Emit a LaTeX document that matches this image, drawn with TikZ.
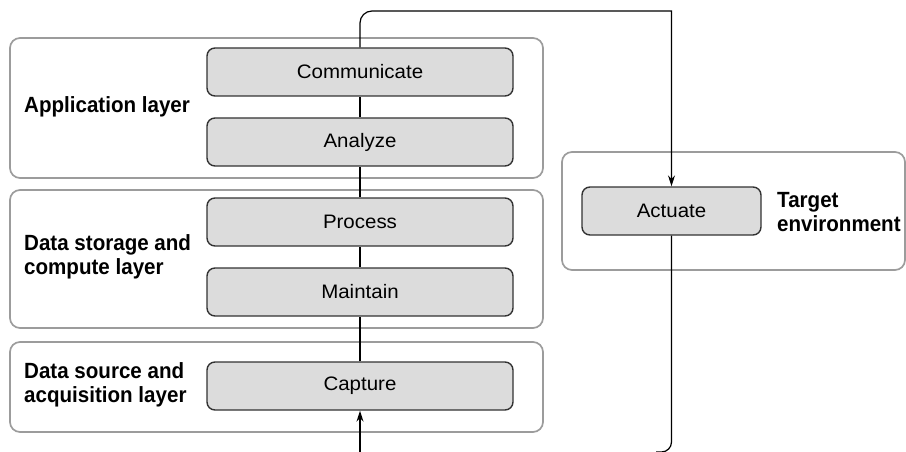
\documentclass[tikz,border=0pt]{standalone}
\usepackage{fontspec}
\setmainfont{Liberation Sans}
\newfontfamily\stepfont{Liberation Sans}[FakeStretch=1.05]
\newfontfamily\lblfont{Liberation Sans}[FakeStretch=0.935]
\usetikzlibrary{arrows.meta}
\definecolor{layergray}{HTML}{9C9C9C}
\definecolor{boxfill}{HTML}{DCDCDC}
\definecolor{boxline}{HTML}{333333}
\begin{document}
\begin{tikzpicture}[x=1pt,y=-1pt,
  layerbox/.style={draw=layergray, line width=1.7pt, rounded corners=10pt, inner sep=0pt},
  stepbox/.style={draw=boxline, fill=boxfill, line width=1.4pt, rounded corners=8pt,
    minimum width=306pt, minimum height=48pt, inner sep=0pt, font=\stepfont\fontsize{19.5}{23}\selectfont},
  lbl/.style={anchor=west, align=left, inner sep=0pt, font=\lblfont\bfseries\fontsize{22}{24}\selectfont},
  flow/.style={draw=black, line width=1.2pt},
  tip/.style={-{Stealth[length=11pt,width=7pt]}}
]
\useasboundingbox (0,0) rectangle (906,452);
% layers
\node[layerbox, minimum width=533pt, minimum height=140pt] (app) at (276.5,108) {};
\node[layerbox, minimum width=533pt, minimum height=138pt] (dsc) at (276.5,259) {};
\node[layerbox, minimum width=533pt, minimum height=90pt] (dsa) at (276.5,387) {};
\node[layerbox, minimum width=343pt, minimum height=118pt] (tgt) at (733.5,211) {};
% steps
\node[stepbox] (comm) at (360,72) {Communicate};
\node[stepbox] (anal) at (360,142) {Analyze};
\node[stepbox] (proc) at (360,222) {Process};
\node[stepbox] (main) at (360,292) {Maintain};
\node[stepbox] (capt) at (360,386) {Capture};
\node[stepbox, minimum width=179pt, minimum height=48pt] (act) at (671.5,211) {Actuate};
% labels
\node[lbl] (lapp) at (24,107) {Application layer};
\node[lbl] (ldsc) at (24,257) {Data storage and\\compute layer};
\node[lbl] (ldsa) at (24,385) {Data source and\\acquisition layer};
\node[lbl] (ltgt) at (777,212) {Target\\environment};
% coordinates
\coordinate (start) at (360,452);
\coordinate (tl) at (360,11);
\coordinate (tr) at (671.5,11);
\coordinate (br) at (671.5,452);
\coordinate (endp) at (656,452);
% connectors
\draw[flow, tip] (start) -- (capt.south);
\draw[flow] (capt.north) -- (main.south);
\draw[flow] (main.north) -- (proc.south);
\draw[flow] (proc.north) -- (anal.south);
\draw[flow] (anal.north) -- (comm.south);
\draw[flow, tip, rounded corners=12pt] (comm.north) -- (tl) [sharp corners] -- (tr) -- (act.north);
\draw[flow, rounded corners=10pt] (act.south) -- (br) -- (endp);
\end{tikzpicture}
\end{document}
